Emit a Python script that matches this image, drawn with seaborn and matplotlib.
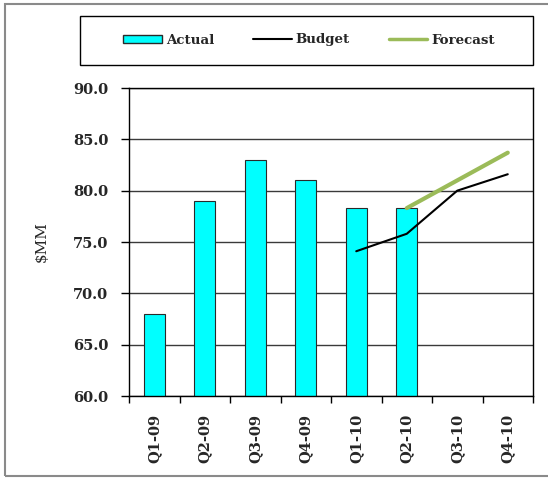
import numpy as np
import pandas as pd
import matplotlib
matplotlib.use("Agg")
import matplotlib.pyplot as plt
from matplotlib.patches import Patch, Rectangle
from matplotlib.lines import Line2D
from matplotlib.ticker import FixedLocator
import seaborn as sns

# Quarterly figures ($MM)
quarters = ["Q1-09", "Q2-09", "Q3-09", "Q4-09", "Q1-10", "Q2-10", "Q3-10", "Q4-10"]
actual_quarters = ["Q1-09", "Q2-09", "Q3-09", "Q4-09", "Q1-10", "Q2-10"]
actual = [68.0, 79.0, 83.0, 81.0, 78.3, 78.3]
budget_quarters = ["Q1-10", "Q2-10", "Q3-10", "Q4-10"]
budget = [74.1, 75.8, 80.0, 81.6]
forecast_quarters = ["Q2-10", "Q3-10", "Q4-10"]
forecast = [78.3, 81.0, 83.7]
y_ticks = [60.0, 65.0, 70.0, 75.0, 80.0, 85.0, 90.0]

sns.set_style("white")
plt.rcParams["font.family"] = ["DejaVu Serif"]

fig = plt.figure(figsize=(5.48, 4.78), dpi=100)
ax = fig.add_axes([129 / 548, 1 - 396 / 478, 404 / 548, 308 / 478])

df_actual = pd.DataFrame({"quarter": actual_quarters, "value": actual})
df_budget = pd.DataFrame({"quarter": budget_quarters, "value": budget})
df_forecast = pd.DataFrame({"quarter": forecast_quarters, "value": forecast})

ax.set_axisbelow(True)
ax.yaxis.grid(True, color="#3a3a3a", linewidth=1.0)

sns.barplot(data=df_actual, x="quarter", y="value", order=quarters,
            color="#00FFFF", saturation=1, width=0.42,
            edgecolor="#2a2a2a", linewidth=0.8, ax=ax, zorder=2)
sns.pointplot(data=df_forecast, x="quarter", y="value", order=quarters,
              color="#9BBB59", markers="", errorbar=None,
              linewidth=3.0, ax=ax, zorder=3)
sns.pointplot(data=df_budget, x="quarter", y="value", order=quarters,
              color="black", markers="", errorbar=None,
              linewidth=1.5, ax=ax, zorder=4)

ax.set_xlim(-0.5, len(quarters) - 0.5)
ax.set_ylim(60, 90)
ax.set_yticks(y_ticks)
ax.set_yticklabels([f"{v:.1f}" for v in y_ticks], fontweight="bold", fontsize=10.5)
ax.set_xticks(range(len(quarters)))
ax.set_xticklabels(quarters, rotation=90, fontweight="bold", fontsize=10.5)
ax.xaxis.set_minor_locator(FixedLocator(np.arange(-0.5, len(quarters), 1.0)))
ax.tick_params(axis="x", which="major", length=0, pad=13)
ax.tick_params(axis="x", which="minor", length=5, width=1, color="black", bottom=True)
ax.tick_params(axis="y", length=6, width=1, color="black", left=True, pad=9)
ax.set_xlabel("")
ax.set_ylabel("$MM", fontsize=11)
ax.yaxis.set_label_coords(-0.198, 0.5)

for s in ax.spines.values():
    s.set_visible(True)
    s.set_color("black")
    s.set_linewidth(1.0)

# Legend box across the top
fig.patches.append(Rectangle((80 / 548, 1 - 65 / 478), 453 / 548, 49 / 478,
                             transform=fig.transFigure, fill=False,
                             edgecolor="black", linewidth=1.0))
handles = [
    Patch(facecolor="#00FFFF", edgecolor="#2a2a2a", linewidth=1.0, label="Actual"),
    Line2D([], [], color="black", linewidth=1.5, label="Budget"),
    Line2D([], [], color="#9BBB59", linewidth=2.5, label="Forecast"),
]
fig.legend(handles=handles, loc="center", bbox_to_anchor=(309 / 548, 1 - 40 / 478),
           ncol=3, frameon=False, prop={"size": 9.6, "weight": "bold"},
           handlelength=2.9, handleheight=0.5, handletextpad=0.3,
           columnspacing=2.9)

# Outer frame (its right side runs past the canvas)
fig.patches.append(Rectangle((5 / 548, 1 - 476 / 478), 1.2, 472 / 478,
                             transform=fig.transFigure, fill=False,
                             edgecolor="#8a8a8a", linewidth=1.5, clip_on=False))

fig.savefig("out.png", dpi=100)
